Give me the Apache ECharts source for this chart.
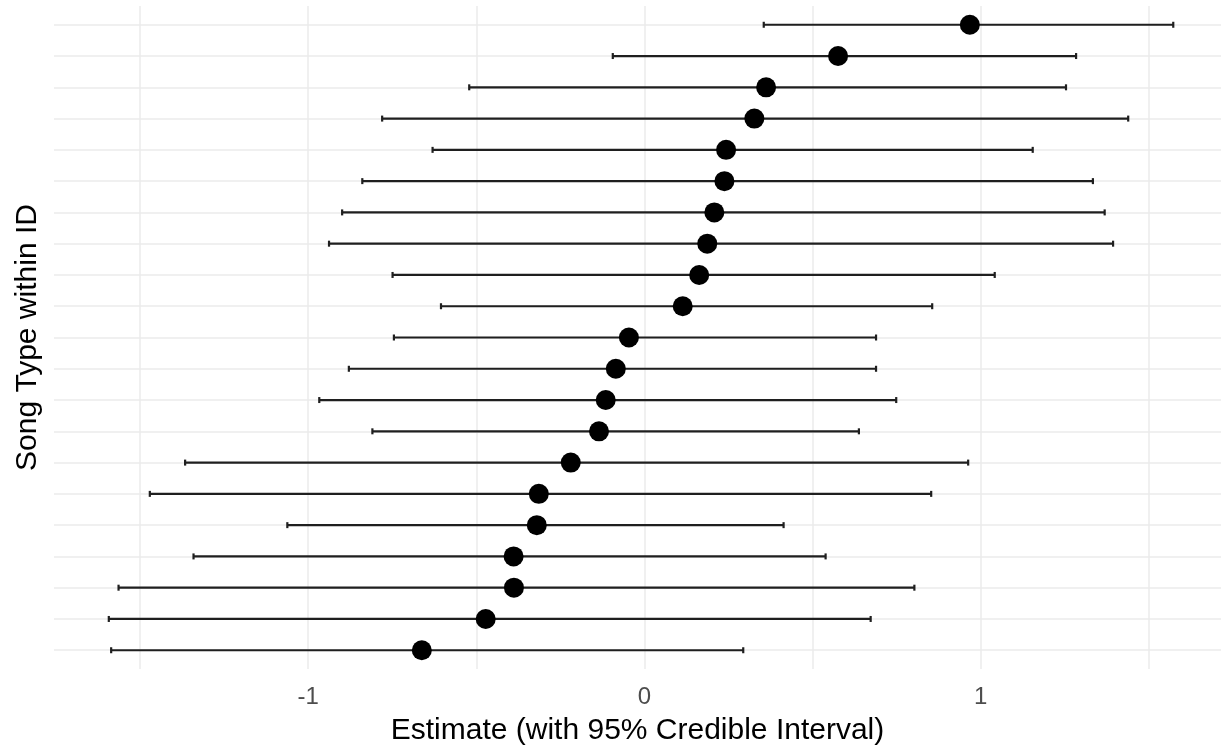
<!DOCTYPE html>
<html>
<head>
<meta charset="utf-8">
<script src="https://cdn.jsdelivr.net/npm/echarts@6/dist/echarts.min.js"></script>
<style>
html,body{margin:0;padding:0;background:#fff;}
#chart{width:1221px;height:751px;}
</style>
</head>
<body>
<div id="chart"></div>
<script>
// Rows (song type within ID), listed top to bottom
const rows = [21,20,19,18,17,16,15,14,13,12,11,10,9,8,7,6,5,4,3,2,1];
const estimate = [0.968,0.576,0.362,0.327,0.243,0.238,0.208,0.187,0.163,0.114,-0.046,-0.085,-0.115,-0.135,-0.219,-0.314,-0.320,-0.389,-0.388,-0.472,-0.662];
const lower = [0.355,-0.094,-0.521,-0.780,-0.630,-0.839,-0.899,-0.938,-0.749,-0.605,-0.745,-0.879,-0.967,-0.809,-1.366,-1.471,-1.062,-1.341,-1.564,-1.593,-1.586];
const upper = [1.573,1.284,1.254,1.439,1.155,1.334,1.369,1.394,1.042,0.856,0.689,0.689,0.749,0.638,0.963,0.853,0.414,0.539,0.803,0.673,0.294];
const xTickLabels = [-1,0,1];
const xGridValues = [-1.5,-1,-0.5,0,0.5,1,1.5];

const FONT = 'Liberation Sans, Arial, sans-serif';
const chart = echarts.init(document.getElementById('chart'));

const errData = rows.map((r,i)=>[lower[i], upper[i], r]);
const ptData = rows.map((r,i)=>[estimate[i], r]);

chart.setOption({
  animation:false,
  backgroundColor:'#ffffff',
  grid:{left:54, top:6, right:0, bottom:81, containLabel:false},
  xAxis:{
    type:'value', min:-1.756, max:1.715,
    axisLine:{show:false},
    axisTick:{show:false, customValues:xGridValues},
    splitLine:{show:true, lineStyle:{color:'#EBEBEB', width:1.5}},
    axisLabel:{customValues:xTickLabels, color:'#4D4D4D', fontSize:24, fontFamily:FONT, margin:16},
    name:'Estimate (with 95% Credible Interval)',
    nameLocation:'middle', nameGap:47,
    nameTextStyle:{color:'#000', fontSize:30, fontFamily:FONT}
  },
  yAxis:{
    type:'value', min:0.4, max:21.6,
    axisLine:{show:false},
    axisTick:{show:false, customValues:rows},
    axisLabel:{show:false, customValues:rows},
    splitLine:{show:true, lineStyle:{color:'#EBEBEB', width:1.5}},
    name:'Song Type within ID',
    nameLocation:'middle', nameGap:11,
    nameTextStyle:{color:'#000', fontSize:30, fontFamily:FONT}
  },
  series:[
    {
      type:'custom',
      data:errData,
      encode:{x:[0,1], y:2},
      renderItem:function(params, api){
        const lo = api.coord([api.value(0), api.value(2)]);
        const hi = api.coord([api.value(1), api.value(2)]);
        const cap = 3;
        const st = {stroke:'#1f1f1f', lineWidth:2.2};
        return {type:'group', children:[
          {type:'line', shape:{x1:lo[0], y1:lo[1], x2:hi[0], y2:hi[1]}, style:st},
          {type:'line', shape:{x1:lo[0], y1:lo[1]-cap, x2:lo[0], y2:lo[1]+cap}, style:st},
          {type:'line', shape:{x1:hi[0], y1:hi[1]-cap, x2:hi[0], y2:hi[1]+cap}, style:st}
        ]};
      },
      z:2
    },
    {
      type:'scatter',
      data:ptData,
      symbol:'circle',
      symbolSize:20,
      itemStyle:{color:'#000', opacity:1},
      z:3
    }
  ]
});
</script>
</body>
</html>
